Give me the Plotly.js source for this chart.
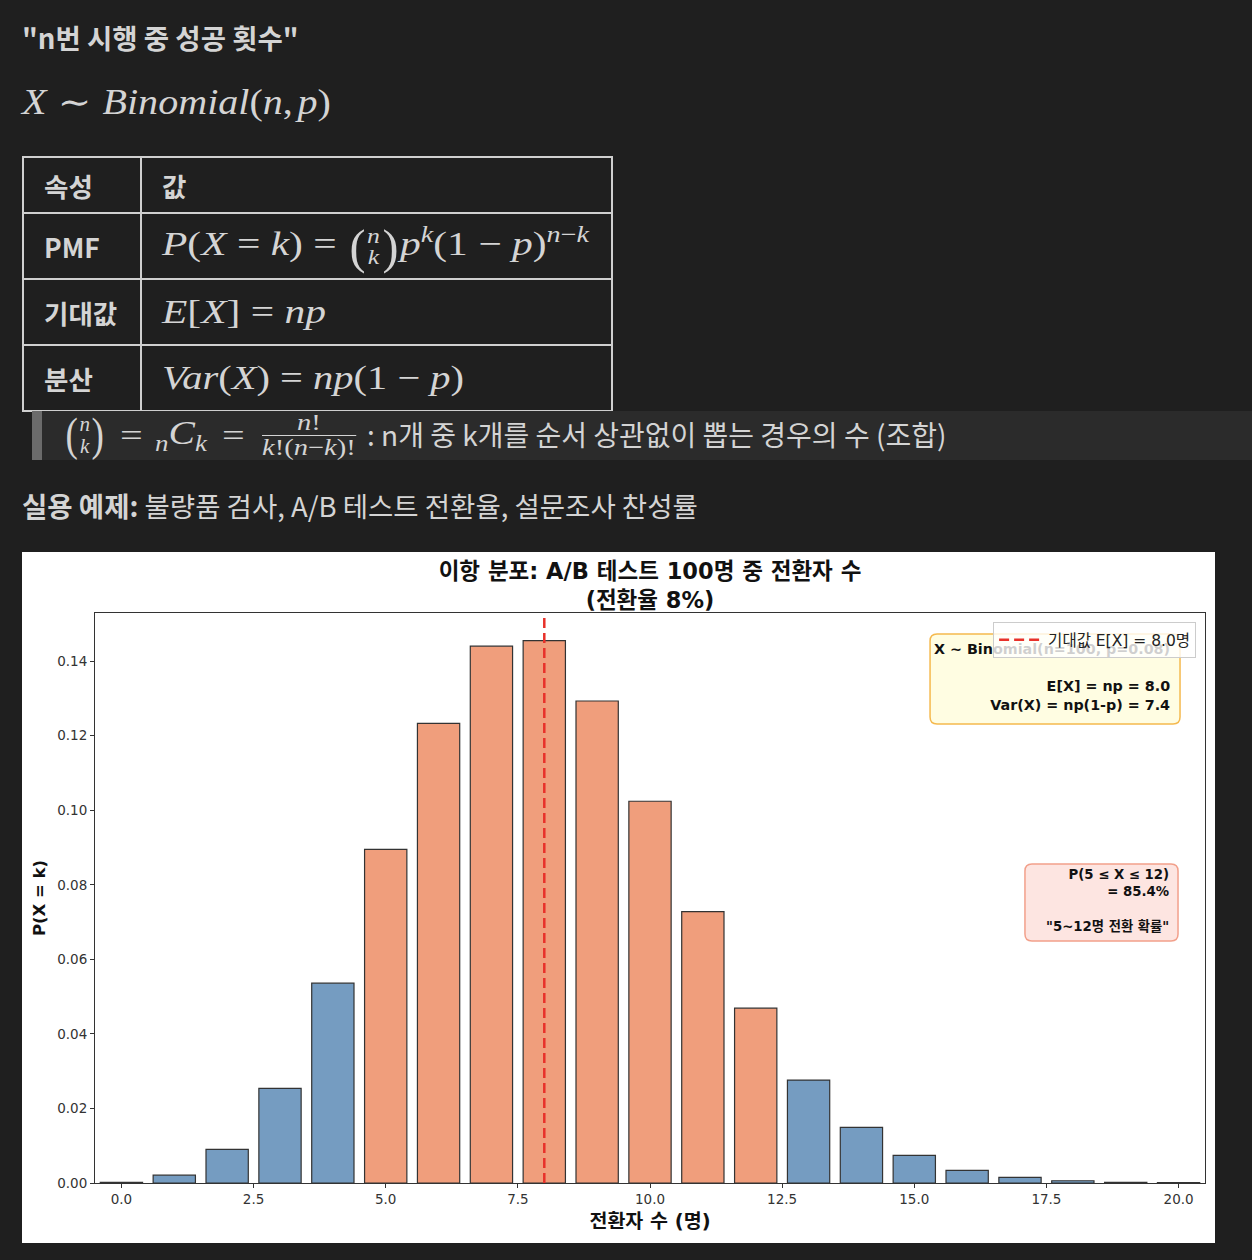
<!DOCTYPE html>
<html><head><meta charset="utf-8">
<script src="https://cdn.plot.ly/plotly-3.0.1.min.js"></script>
<style>
body{margin:0;background:#1f1f1f;width:1252px;height:1260px;overflow:hidden;position:relative;font-family:"Noto Sans CJK KR","Noto Sans",sans-serif;color:#d4d4d4}
.abs{position:absolute;white-space:nowrap}
.m{font-family:"Liberation Serif","DejaVu Serif",serif;font-size:34px;color:#d4d4d4;white-space:nowrap}
.m i{font-style:italic}
.mx{display:inline-block;transform-origin:left center}
.sp{display:inline-block;width:0.28em}
.bin{display:inline-flex;align-items:center;vertical-align:middle}
.bp{font-size:1.45em;line-height:1;transform:scaleX(0.8);display:inline-block}
.stk{display:inline-flex;flex-direction:column;font-size:0.62em;line-height:1.0;text-align:center;font-style:italic}
.sup{font-size:0.68em;vertical-align:0.55em}
.sub{font-size:0.68em;vertical-align:-0.3em}
.frac{display:inline-flex;flex-direction:column;vertical-align:middle;text-align:center;line-height:1.05}
.frac .num{border-bottom:1.5px solid #d4d4d4;padding:0 2px}
.bq{position:absolute;top:411px;height:49px;display:flex;align-items:center;white-space:nowrap}
table{border-collapse:collapse;position:absolute;left:22px;top:156px;width:591px}
td{border:2px solid #cfcfcf;padding:0 0 0 20px;text-align:left;vertical-align:middle}
td.h{font-weight:700;font-size:26.5px;color:#d4d4d4}
</style></head>
<body>
<div class="abs" style="left:22px;top:17px;font-size:27.5px;font-weight:700;">"n번 시행 중 성공 횟수"</div>
<div class="abs m" style="left:22px;top:82px;font-size:35px;"><span class="mx" style="transform:scaleX(1.145)"><i>X</i><span class="sp"></span>∼<span class="sp"></span><i>Binomial</i>(<i>n</i>,<span style="display:inline-block;width:4px"></span><i>p</i>)</span></div>

<table>
<tr style="height:56px"><td class="h" style="width:96px">속성</td><td class="h">값</td></tr>
<tr style="height:66px"><td class="h">PMF</td><td class="m"><span class="mx" style="transform:scaleX(1.22)"><i>P</i>(<i>X</i> = <i>k</i>) = <span class="bin"><span class="bp">(</span><span class="stk"><span>n</span><span>k</span></span><span class="bp">)</span></span><i>p</i><span class="sup"><i>k</i></span>(1 − <i>p</i>)<span class="sup"><i>n</i>−<i>k</i></span></span></td></tr>
<tr style="height:66px"><td class="h">기대값</td><td class="m"><span class="mx" style="transform:scaleX(1.22)"><i>E</i>[<i>X</i>] = <i>np</i></span></td></tr>
<tr style="height:66px"><td class="h">분산</td><td class="m"><span class="mx" style="transform:scaleX(1.19)"><i>Var</i>(<i>X</i>) = <i>np</i>(1 − <i>p</i>)</span></td></tr>
</table>

<div class="abs" style="left:32px;top:411px;width:1220px;height:49px;background:#2b2b2b;"></div>
<div class="abs" style="left:32px;top:411px;width:10px;height:49px;background:#6b6b6b;"></div>
<div class="bq m" style="left:64px;font-size:31px;"><span class="bin"><span class="bp" style="font-size:1.5em">(</span><span class="stk" style="font-size:0.68em"><span>n</span><span>k</span></span><span class="bp" style="font-size:1.5em">)</span></span></div>
<div class="bq m" style="left:120px;font-size:31px;"><span class="mx" style="transform:scaleX(1.3)">=</span></div>
<div class="bq m" style="left:155px;font-size:33px;"><span class="mx" style="transform:scaleX(1.2)"><span class="sub"><i>n</i></span><i>C</i><span class="sub"><i>k</i></span></span></div>
<div class="bq m" style="left:222px;font-size:31px;"><span class="mx" style="transform:scaleX(1.3)">=</span></div>
<div class="bq m" style="left:262px;font-size:23px;"><span class="mx" style="transform:scaleX(1.24)"><span class="frac"><span class="num"><i>n</i>!</span><span><i>k</i>!(<i>n</i>−<i>k</i>)!</span></span></span></div>
<div class="abs" style="left:367px;top:411px;height:49px;line-height:46px;font-size:28px;">: n개 중 k개를 순서 상관없이 뽑는 경우의 수 (조합)</div>

<div class="abs" style="left:22px;top:485px;font-size:27.5px;"><b>실용 예제:</b> 불량품 검사, A/B 테스트 전환율, 설문조사 찬성률</div>

<div id="chart" class="abs" style="left:22px;top:552px;width:1193px;height:691px;background:#fff;"></div>

<script>
// 성공 횟수 k (명)
const successes = [0,1,2,3,4,5,6,7,8,9,10,11,12,13,14,15,16,17,18,19,20];
// P(X = k), Binomial(n=100, p=0.08)
const probabilities = [0.0002,0.0021,0.0090,0.0254,0.0536,0.0895,0.1233,0.1440,0.1455,0.1293,0.1024,0.0728,0.0469,0.0276,0.0149,0.0074,0.0034,0.0015,0.0006,0.0002,0.0001];
const rangeLow = 5, rangeHigh = 12;
const expectedValue = 8.0;
const titleText = "<b>이항 분포: A/B 테스트 100명 중 전환자 수<br>(전환율 8%)</b>";
const xTitle = "<b>전환자 수 (명)</b>";
const yTitle = "<b>P(X = k)</b>";
const legendName = "기대값 E[X] = 8.0명";
const infoText = "<b>X ~ Binomial(n=100, p=0.08)<br> <br>E[X] = np = 8.0<br>Var(X) = np(1-p) = 7.4</b>";
const rangeText = "<b>P(5 ≤ X ≤ 12)<br>= 85.4%<br> <br>\"5~12명 전환 확률\"</b>";
const xTicks = [0, 2.5, 5, 7.5, 10, 12.5, 15, 17.5, 20];
const yTicks = [0, 0.02, 0.04, 0.06, 0.08, 0.10, 0.12, 0.14];

const BLUE = "#759cc1", ORANGE = "#f09e7c";
const colors = successes.map(k => (k >= rangeLow && k <= rangeHigh) ? ORANGE : BLUE);
const F = '"DejaVu Sans","Noto Sans CJK KR",sans-serif';

// plot-area size in px (for rounded box corners in paper units)
const W = 1193, H = 691, M = {l: 73, r: 10, t: 61, b: 60};
const PW = W - M.l - M.r, PH = H - M.t - M.b;
function roundBox(x0, x1, y0, y1, r) {
  const rx = r / PW, ry = r / PH;
  return `M${x0+rx},${y0} L${x1-rx},${y0} Q${x1},${y0} ${x1},${y0+ry} L${x1},${y1-ry} Q${x1},${y1} ${x1-rx},${y1} ` +
         `L${x0+rx},${y1} Q${x0},${y1} ${x0},${y1-ry} L${x0},${y0+ry} Q${x0},${y0} ${x0+rx},${y0} Z`;
}

const trace = {
  type: "bar", x: successes, y: probabilities, width: 0.8,
  marker: {color: colors, line: {color: "#333333", width: 1.2}},
  showlegend: false, hoverinfo: "x+y"
};
const layout = {
  width: W, height: H, margin: M,
  paper_bgcolor: "#ffffff", plot_bgcolor: "#ffffff",
  font: {family: F, color: "#222"},
  title: {text: titleText, x: 0.5, xref: "paper", xanchor: "center", y: 0.961, yref: "container", yanchor: "top", font: {size: 22.5, color: "#111", family: F}},
  xaxis: {range: [-0.5, 20.5], tickvals: xTicks, tickformat: ".1f", ticks: "outside", ticklen: 4, tickcolor: "#333",
    showline: true, mirror: true, linecolor: "#333", linewidth: 1, showgrid: false, zeroline: false,
    tickfont: {size: 13.5, color: "#333", family: F}, title: {text: xTitle, font: {size: 19.5, color: "#111", family: F}, standoff: 8}},
  yaxis: {range: [0, 0.1529], tickvals: yTicks, tickformat: ".2f", ticks: "outside", ticklen: 4, tickcolor: "#333",
    showline: true, mirror: true, linecolor: "#333", linewidth: 1, showgrid: false, zeroline: false,
    tickfont: {size: 13.5, color: "#333", family: F}, title: {text: yTitle, font: {size: 16.5, color: "#111", family: F}, standoff: 7}},
  shapes: [
    {type: "path", xref: "paper", yref: "paper", path: roundBox(0.7523, 0.9775, 0.8053, 0.9632, 7),
     fillcolor: "#fffde2", line: {color: "#f5b94e", width: 1.5}, layer: "above"},
    {type: "path", xref: "paper", yref: "paper", path: roundBox(0.8378, 0.9757, 0.4246, 0.5596, 7),
     fillcolor: "#fde5e1", line: {color: "#f2a08b", width: 1.5}, layer: "above"},
    {type: "line", xref: "x", yref: "paper", x0: expectedValue, x1: expectedValue, y0: 0, y1: 1,
     line: {color: "#e8312a", width: 2.5, dash: "10px,5px"}, layer: "above", showlegend: true, name: legendName}
  ],
  showlegend: true,
  legend: {x: 0.992, xanchor: "right", y: 0.984, yanchor: "top", bgcolor: "rgba(255,255,255,0.8)", bordercolor: "#cccccc", borderwidth: 1,
    itemwidth: 44, font: {size: 15.5, color: "#222", family: F}},
  annotations: [
    {xref: "paper", yref: "paper", x: 0.9694, y: 0.9527, xanchor: "right", yanchor: "top", text: infoText, showarrow: false, align: "right",
     font: {size: 14.3, color: "#111", family: F}, borderpad: 0},
    {xref: "paper", yref: "paper", x: 0.9685, y: 0.5553, xanchor: "right", yanchor: "top", text: rangeText, showarrow: false, align: "right",
     font: {size: 13.3, color: "#111", family: F}, borderpad: 0}
  ]
};
Plotly.newPlot("chart", [trace], layout, {displayModeBar: false, staticPlot: true}).then(gd => {
  // matplotlib draws the legend above the text boxes
  const leg = gd.querySelector(".infolayer .legend");
  if (leg) leg.parentNode.appendChild(leg);
});
</script>
</body></html>
